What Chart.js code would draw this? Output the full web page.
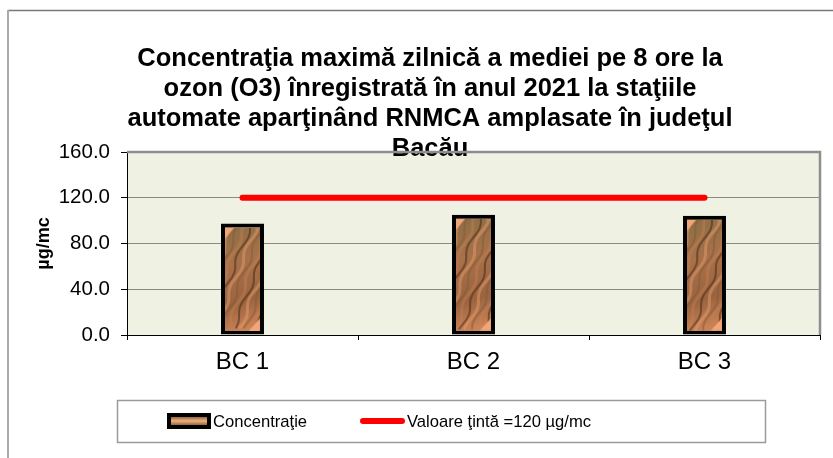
<!DOCTYPE html>
<html>
<head>
<meta charset="utf-8">
<script src="https://cdn.jsdelivr.net/npm/chart.js@4"></script>
<style>
  html, body { margin: 0; padding: 0; background: #fff; }
</style>
</head>
<body>
<canvas id="myChart" width="833" height="458"></canvas>
<script>
// data
const categories = ['BC 1', 'BC 2', 'BC 3'];
const concentratie = [97.4, 105.2, 104.3];
const valoareTinta = [120, 120, 120];
const yTicks = [0, 40, 80, 120, 160];
const titleLines = [
    'Concentraţia maximă zilnică a mediei pe 8 ore la',
    'ozon (O3) înregistrată în anul 2021 la staţiile',
    'automate aparţinând RNMCA amplasate în judeţul',
    'Bacău'
];
const legendLabels = ['Concentraţie', 'Valoare ţintă =120 µg/mc'];
const yTitle = 'µg/mc';

const FONT = "'Liberation Sans', Arial, sans-serif";

// brownish stone texture used inside the bars
function makeTexture(w, h) {
    const c = document.createElement('canvas');
    c.width = Math.max(1, Math.round(w));
    c.height = Math.max(1, Math.round(h));
    const g = c.getContext('2d');
    const grad = g.createLinearGradient(0, 0, w, h);
    grad.addColorStop(0, '#8c6f45');
    grad.addColorStop(0.35, '#a8714a');
    grad.addColorStop(0.7, '#9a6440');
    grad.addColorStop(1, '#d68a5c');
    g.fillStyle = grad;
    g.fillRect(0, 0, w, h);
    g.lineCap = 'round';
    for (let i = -12; i < 22; i++) {
        const x0 = i * 6;
        const k = ((i % 4) + 4) % 4;
        g.strokeStyle = ['rgba(70,42,22,0.55)', 'rgba(236,160,110,0.45)',
                         'rgba(130,90,55,0.5)', 'rgba(200,130,85,0.4)'][k];
        g.lineWidth = 2 + (k % 2);
        g.beginPath();
        g.moveTo(x0 + 25, 0);
        for (let y = 0; y <= h; y += 5) {
            g.lineTo(x0 + 25 - y * 0.4 + Math.sin(y * 0.17 + i) * 2.5, y);
        }
        g.stroke();
    }
    g.fillStyle = '#f2a577';
    g.beginPath(); g.moveTo(0, 0); g.lineTo(9, 0); g.lineTo(0, 11); g.closePath(); g.fill();
    g.beginPath(); g.moveTo(w, h); g.lineTo(w - 11, h); g.lineTo(w, h - 12); g.closePath(); g.fill();
    return c;
}

const decor = {
    id: 'decor',
    beforeDraw(chart) {
        const { ctx, chartArea: a } = chart;
        ctx.save();
        // outer frame
        ctx.strokeStyle = '#7a7a7a';
        ctx.lineWidth = 1.5;
        ctx.beginPath(); ctx.moveTo(8, 10.5); ctx.lineTo(chart.width, 10.5); ctx.stroke();
        ctx.strokeStyle = '#ababab';
        ctx.lineWidth = 2;
        ctx.beginPath(); ctx.moveTo(8, 10); ctx.lineTo(8, chart.height); ctx.stroke();
        // plot background
        ctx.fillStyle = '#eff2e3';
        ctx.fillRect(a.left, a.top, a.right - a.left, a.bottom - a.top);
        ctx.restore();
    },
    beforeDatasetsDraw(chart) {
        const { ctx, chartArea: a } = chart;
        ctx.save();
        ctx.strokeStyle = '#8e8e8e';
        ctx.lineWidth = 2.5;
        ctx.beginPath();
        ctx.moveTo(a.left, a.top);
        ctx.lineTo(a.right, a.top);
        ctx.lineTo(a.right, a.bottom);
        ctx.stroke();
        ctx.restore();
    },
    afterDatasetsDraw(chart) {
        const ctx = chart.ctx;
        const bw = 4;
        chart.getDatasetMeta(0).data.forEach(el => {
            const p = el.getProps(['x', 'y', 'base', 'width'], true);
            const left = p.x - p.width / 2 + bw;
            const top = p.y + bw;
            const w = p.width - 2 * bw;
            const h = p.base - p.y - 2 * bw;
            ctx.drawImage(makeTexture(w, h), left, top, w, h);
        });
    },
    afterDraw(chart) {
        const ctx = chart.ctx;
        ctx.save();
        // legend frame
        ctx.strokeStyle = '#9a9a9a';
        ctx.lineWidth = 1.5;
        ctx.strokeRect(117.5, 400.5, 648, 42);
        const cy = 421;
        // bar symbol
        ctx.fillStyle = '#000';
        ctx.fillRect(167, cy - 8, 44, 16);
        const lg = ctx.createLinearGradient(0, cy - 5, 0, cy + 5);
        lg.addColorStop(0, '#7a5535');
        lg.addColorStop(0.5, '#f0b07a');
        lg.addColorStop(1, '#7a5535');
        ctx.fillStyle = lg;
        ctx.fillRect(171, cy - 4, 36, 8);
        // line symbol
        ctx.strokeStyle = '#ff0000';
        ctx.lineWidth = 6;
        ctx.lineCap = 'round';
        ctx.beginPath(); ctx.moveTo(363, cy); ctx.lineTo(402, cy); ctx.stroke();
        // texts
        ctx.fillStyle = '#000';
        ctx.font = '16.6px ' + FONT;
        ctx.textBaseline = 'middle';
        ctx.fillText(legendLabels[0], 213, cy + 1);
        ctx.fillText(legendLabels[1], 407, cy + 1);
        ctx.restore();
    }
};

const ctx = document.getElementById('myChart').getContext('2d');
const chart = new Chart(ctx, { //eslint-disable-line
    data: {
        labels: categories,
        datasets: [{
            type: 'bar',
            label: legendLabels[0],
            data: concentratie,
            backgroundColor: '#a0704a',
            borderColor: '#000',
            borderWidth: 4,
            borderSkipped: false,
            barPercentage: 0.186,
            categoryPercentage: 1,
            order: 2
        }, {
            type: 'line',
            label: legendLabels[1],
            data: valoareTinta,
            borderColor: '#ff0000',
            borderWidth: 6,
            borderCapStyle: 'round',
            pointRadius: 0,
            fill: false,
            order: 1
        }]
    },
    options: {
        responsive: false,
        animation: false,
        devicePixelRatio: 1,
        layout: { padding: { left: 40, right: 13, top: 0, bottom: 81 } },
        plugins: {
            legend: { display: false },
            tooltip: { enabled: false },
            title: {
                display: true,
                text: titleLines,
                color: '#000',
                font: { family: FONT, size: 25.5, weight: 'bold', lineHeight: '30px' },
                padding: { top: 44, bottom: -12 }
            }
        },
        scales: {
            x: {
                grid: { offset: true, drawOnChartArea: false, tickLength: 5, tickColor: '#000' },
                border: { color: '#000' },
                ticks: { color: '#000', font: { family: FONT, size: 24 }, padding: 8 },
                afterFit(s) { s.height = 42; }
            },
            y: {
                min: 0,
                max: 160,
                afterBuildTicks(s) { s.ticks = yTicks.map(v => ({ value: v })); },
                ticks: { color: '#000', font: { family: FONT, size: 20.5 }, padding: 11,
                         callback: v => v.toFixed(1) },
                grid: { color: '#8a8a80', tickLength: 6, tickColor: '#000' },
                border: { color: '#000' },
                title: { display: true, text: yTitle, color: '#000',
                         font: { family: FONT, size: 18, weight: 'bold' },
                         padding: { top: -7, bottom: 0 } },
                afterFit(s) { s.width = 87; }
            }
        }
    },
    plugins: [decor]
});
</script>
</body>
</html>
